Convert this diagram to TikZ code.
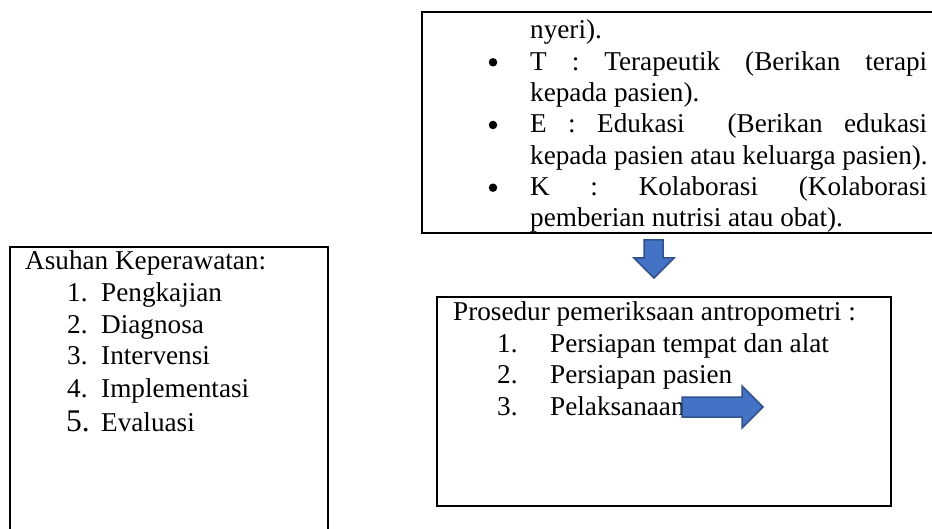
\documentclass[tikz,border=0pt]{standalone}
\usepackage{fontspec}
\setmainfont{Liberation Serif}
\definecolor{arrowfill}{HTML}{4472C4}
\definecolor{arrowline}{HTML}{2F528F}
\begin{document}
\begin{tikzpicture}[x=1pt,y=-1pt,
  txt/.style={anchor=base west,inner sep=0pt,font=\fontsize{27.2}{31}\selectfont},
  bigtxt/.style={anchor=base west,inner sep=0pt,font=\fontsize{31.5}{36}\selectfont},
  bul/.style={circle,fill=black,inner sep=0pt,minimum size=8.5pt},
  frame/.style={draw=black,line width=2pt},
  blockarrow/.style={draw=arrowline,fill=arrowfill,line width=1.5pt,line join=miter}]
\path[use as bounding box] (0,0) rectangle (932,529);
\begin{scope}
\clip (0,0) rectangle (932,529);
\draw[frame] (422,12) rectangle (945,233);
\draw[frame] (10,247) rectangle (328,545);
\end{scope}
\draw[frame] (437,297) rectangle (891,506);

% top box text
\node[txt] (t1) at (530,39) {nyeri).};
\node[bul] (b1) at (493,62.3) {};
\node[txt] (t2) at (530,70.3) {\makebox[397pt][s]{T : Terapeutik (Berikan terapi}};
\node[txt] (t3) at (530,101.7) {kepada pasien).};
\node[bul] (b2) at (493,125) {};
\node[txt] (t4) at (530,133) {\makebox[397pt][s]{E : Edukasi \ (Berikan edukasi}};
\node[txt] (t5) at (530,164.3) {kepada pasien atau keluarga pasien).};
\node[bul] (b3) at (493,187.7) {};
\node[txt] (t6) at (530,195.7) {\makebox[397pt][s]{K : Kolaborasi (Kolaborasi}};
\node[txt] (t7) at (530,227) {pemberian nutrisi atau obat).};

% left box text
\node[txt] (a0) at (25,270) {Asuhan Keperawatan:};
\node[txt] (n1) at (67,302) {1.};
\node[txt] (a1) at (101,302) {Pengkajian};
\node[txt] (n2) at (67,334) {2.};
\node[txt] (a2) at (101,334) {Diagnosa};
\node[txt] (n3) at (67,365) {3.};
\node[txt] (a3) at (101,365) {Intervensi};
\node[txt] (n4) at (67,397) {4.};
\node[txt] (a4) at (101,397) {Implementasi};
\node[bigtxt] (n5) at (66,431) {5.};
\node[txt] (a5) at (101,431) {Evaluasi};

% bottom box text
\node[txt] (p0) at (453,321) {Prosedur pemeriksaan antropometri :};
\node[txt] (m1) at (497,352.5) {1.};
\node[txt] (p1) at (550,352.5) {Persiapan tempat dan alat};
\node[txt] (m2) at (497,384) {2.};
\node[txt] (p2) at (550,384) {Persiapan pasien};
\node[txt] (m3) at (497,415) {3.};
\node[txt] (p3) at (550,415) {Pelaksanaan};

% block arrows
\draw[blockarrow] (644,240) -- (663,240) -- (663,258) -- (674,258) -- (654,278) -- (634,258) -- (644,258) -- cycle;
\draw[blockarrow] (682,397) -- (742,397) -- (742,386) -- (763,407) -- (742,428) -- (742,417) -- (682,417) -- cycle;
\end{tikzpicture}
\end{document}
